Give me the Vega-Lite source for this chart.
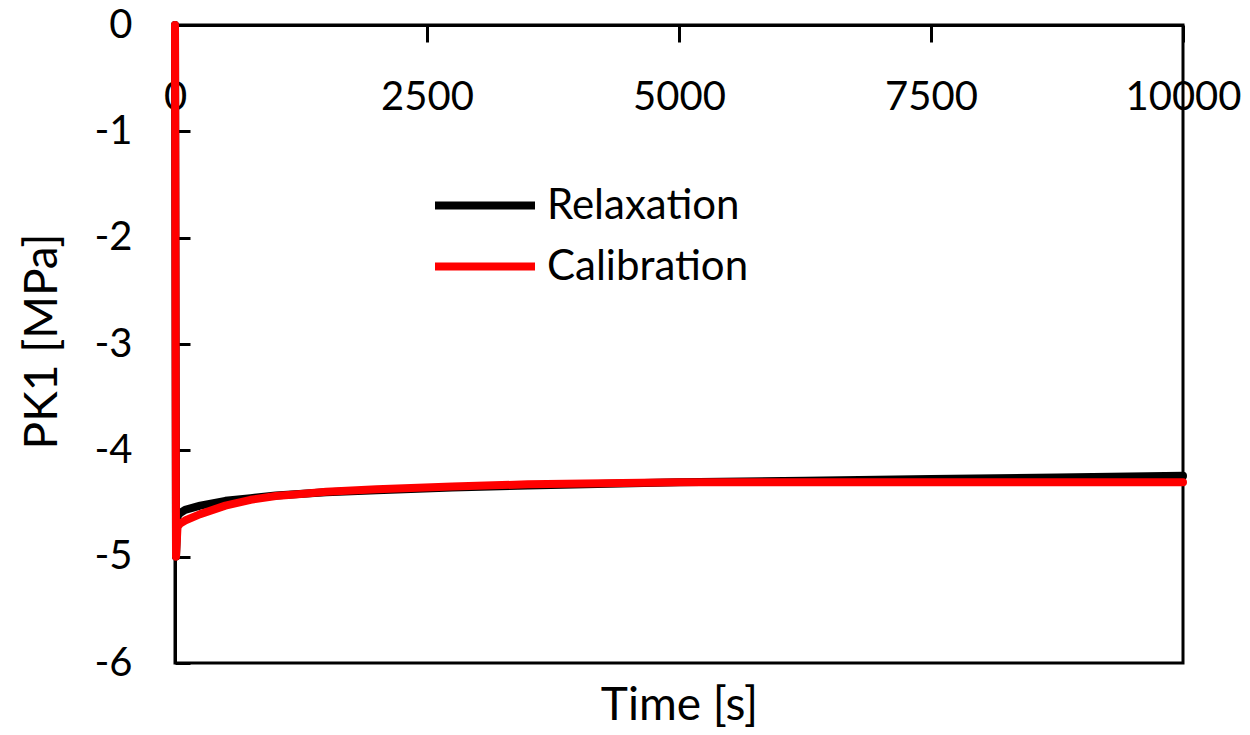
{
  "$schema": "https://vega.github.io/schema/vega-lite/v6.json",
  "width": 1008,
  "height": 638,
  "autosize": "none",
  "padding": {"left": 175, "top": 25, "right": 67, "bottom": 72},
  "background": "white",
  "config": {
    "view": {"stroke": "black", "strokeWidth": 3},
    "font": "Lato"
  },
  "data": {
    "values": [
      {"t": 0, "v": 0, "s": "Relaxation"},
      {"t": 10, "v": -5.0, "s": "Relaxation"},
      {"t": 25, "v": -4.62, "s": "Relaxation"},
      {"t": 50, "v": -4.59, "s": "Relaxation"},
      {"t": 100, "v": -4.56, "s": "Relaxation"},
      {"t": 250, "v": -4.52, "s": "Relaxation"},
      {"t": 500, "v": -4.475, "s": "Relaxation"},
      {"t": 750, "v": -4.45, "s": "Relaxation"},
      {"t": 1000, "v": -4.425, "s": "Relaxation"},
      {"t": 1500, "v": -4.395, "s": "Relaxation"},
      {"t": 2000, "v": -4.375, "s": "Relaxation"},
      {"t": 2750, "v": -4.35, "s": "Relaxation"},
      {"t": 3500, "v": -4.33, "s": "Relaxation"},
      {"t": 5000, "v": -4.30, "s": "Relaxation"},
      {"t": 6250, "v": -4.285, "s": "Relaxation"},
      {"t": 7500, "v": -4.27, "s": "Relaxation"},
      {"t": 8750, "v": -4.255, "s": "Relaxation"},
      {"t": 10000, "v": -4.24, "s": "Relaxation"},
      {"t": 0, "v": 0, "s": "Calibration"},
      {"t": 10, "v": -5.0, "s": "Calibration"},
      {"t": 25, "v": -4.72, "s": "Calibration"},
      {"t": 50, "v": -4.69, "s": "Calibration"},
      {"t": 100, "v": -4.66, "s": "Calibration"},
      {"t": 250, "v": -4.60, "s": "Calibration"},
      {"t": 500, "v": -4.52, "s": "Calibration"},
      {"t": 750, "v": -4.465, "s": "Calibration"},
      {"t": 1000, "v": -4.43, "s": "Calibration"},
      {"t": 1250, "v": -4.41, "s": "Calibration"},
      {"t": 1500, "v": -4.39, "s": "Calibration"},
      {"t": 2000, "v": -4.365, "s": "Calibration"},
      {"t": 2750, "v": -4.34, "s": "Calibration"},
      {"t": 3500, "v": -4.32, "s": "Calibration"},
      {"t": 5000, "v": -4.30, "s": "Calibration"},
      {"t": 7500, "v": -4.30, "s": "Calibration"},
      {"t": 10000, "v": -4.30, "s": "Calibration"}
    ]
  },
  "mark": {"type": "line", "strokeWidth": 8, "strokeCap": "round", "strokeJoin": "round", "clip": false},
  "encoding": {
    "x": {
      "field": "t", "type": "quantitative",
      "scale": {"domain": [0, 10000], "nice": false, "zero": false},
      "axis": {
        "orient": "bottom", "offset": -638,
        "values": [0, 2500, 5000, 7500, 10000],
        "labelExpr": "'' + datum.value",
        "labelFlush": false, "labelOverlap": false,
        "labelFontSize": 40, "labelColor": "black", "labelFont": "Lato",
        "labelBaseline": "middle", "labelPadding": 55,
        "tickSize": 17, "tickWidth": 3, "tickColor": "black",
        "domainColor": "black", "domainWidth": 3,
        "grid": false,
        "title": "Time [s]", "titleFontSize": 46, "titleFont": "Lato", "titleFontWeight": "normal",
        "titleColor": "black", "titleX": 504, "titleY": 680, "titleBaseline": "middle", "titleAlign": "center"
      }
    },
    "y": {
      "field": "v", "type": "quantitative",
      "scale": {"domain": [-6, 0], "nice": false, "zero": false},
      "axis": {
        "orient": "left",
        "values": [0, -1, -2, -3, -4, -5, -6],
        "labelExpr": "'' + datum.value",
        "labelFontSize": 40, "labelColor": "black", "labelFont": "Lato",
        "labelPadding": 58, "labelOverlap": false, "labelFlush": false,
        "tickSize": -15, "tickWidth": 3, "tickColor": "black",
        "domainColor": "black", "domainWidth": 3,
        "grid": false,
        "title": "PK1 [MPa]", "titleFontSize": 46, "titleFont": "Lato", "titleFontWeight": "normal",
        "titleColor": "black", "titleAngle": -90, "titleX": -133, "titleY": 316,
        "titleBaseline": "middle", "titleAlign": "center"
      }
    },
    "color": {
      "field": "s", "type": "nominal",
      "scale": {"domain": ["Relaxation", "Calibration"], "range": ["black", "red"]},
      "legend": {
        "title": null, "orient": "none", "legendX": 256, "legendY": 150,
        "symbolType": "stroke", "symbolSize": 10000, "symbolStrokeWidth": 8,
        "labelFontSize": 42, "labelFont": "Lato", "labelColor": "black", "labelLimit": 0,
        "labelOffset": 8, "rowPadding": 0, "clipHeight": 61, "padding": 0
      }
    }
  }
}
